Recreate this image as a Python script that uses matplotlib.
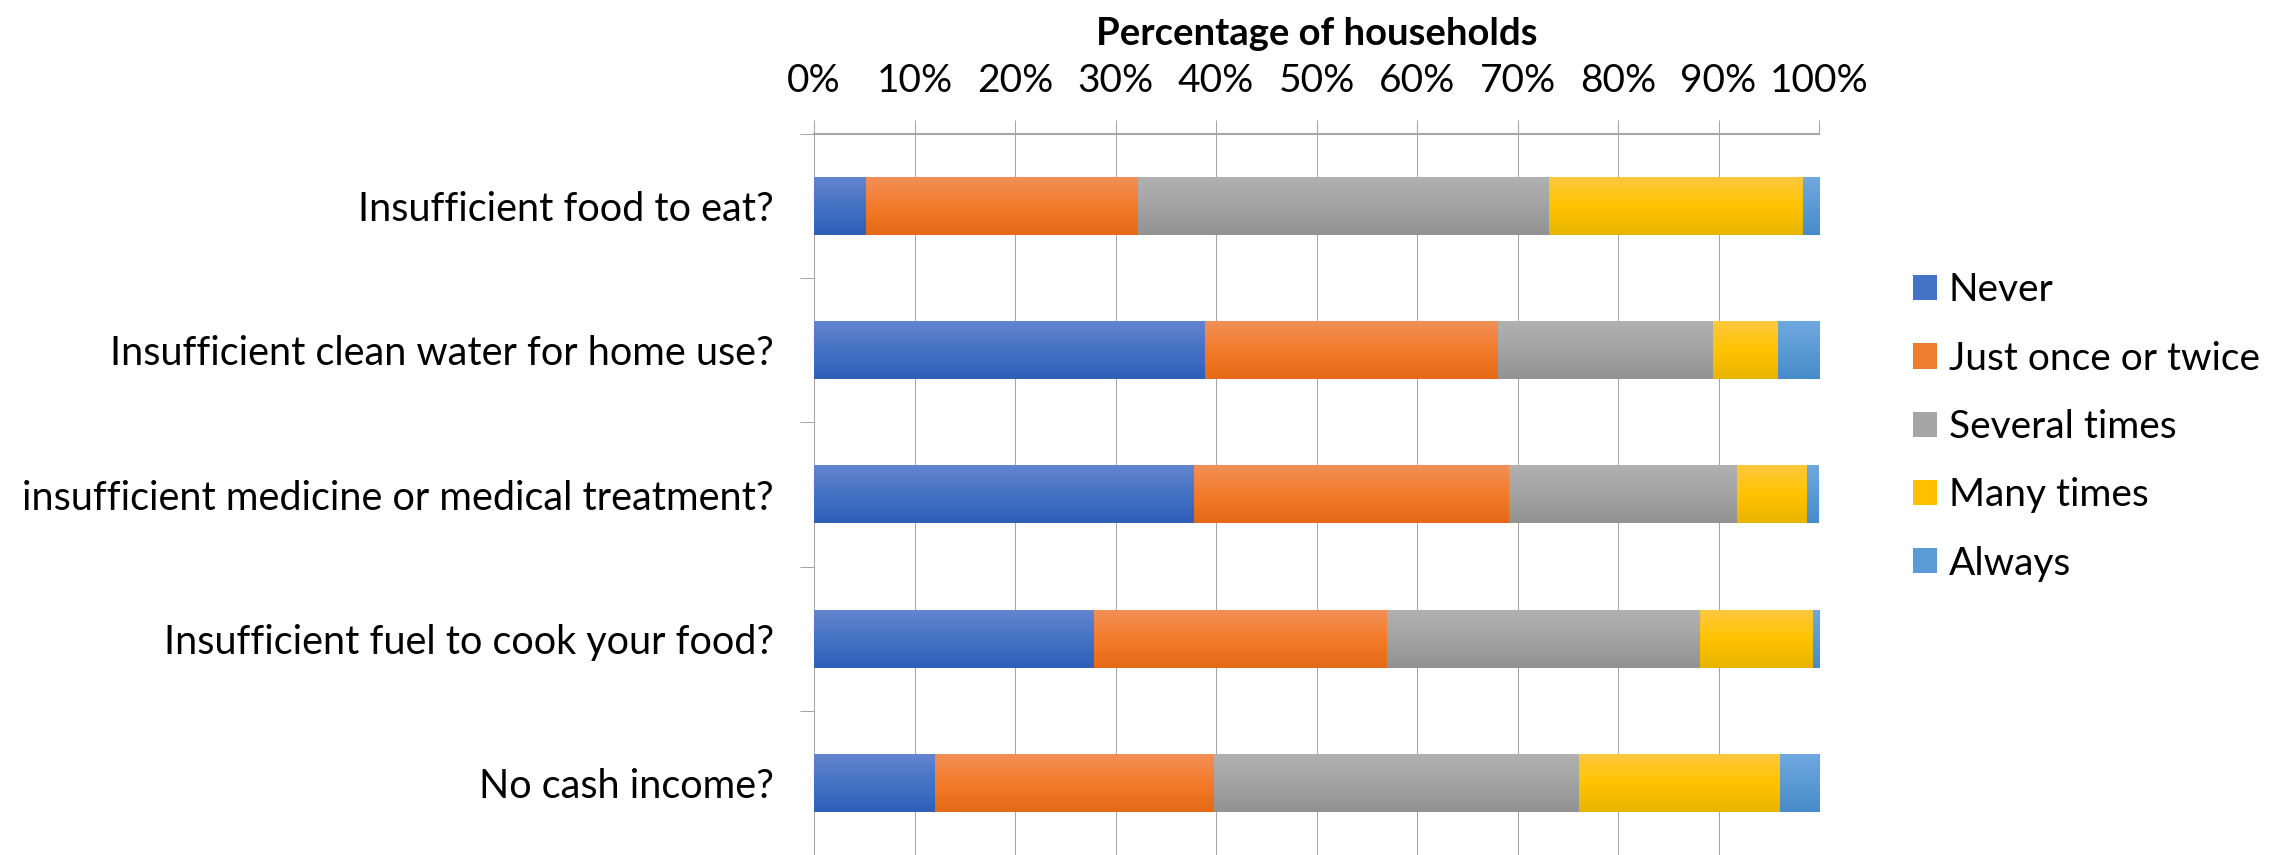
import matplotlib
matplotlib.use("Agg")
import matplotlib.pyplot as plt
import numpy as np
from matplotlib.colors import LinearSegmentedColormap
from matplotlib.patches import Patch
from matplotlib.ticker import FixedLocator, PercentFormatter

plt.rcParams['font.family'] = ['Lato', 'DejaVu Sans']

categories = [
    "Insufficient food to eat?",
    "Insufficient clean water for home use?",
    "insufficient medicine or medical treatment?",
    "Insufficient fuel to cook your food?",
    "No cash income?",
]
series_names = ["Never", "Just once or twice", "Several times", "Many times", "Always"]
never = [5.2, 38.9, 37.8, 27.9, 12.0]
once_twice = [27.0, 29.2, 31.4, 29.1, 27.8]
several = [40.9, 21.4, 22.6, 31.2, 36.3]
many = [25.3, 6.4, 7.0, 11.2, 20.0]
always = [1.6, 4.1, 1.1, 0.6, 3.9]
x_ticks = [0, 10, 20, 30, 40, 50, 60, 70, 80, 90, 100]

series_values = [never, once_twice, several, many, always]
base_colors = ["#4472c4", "#ed7d31", "#a5a5a5", "#ffc000", "#5b9bd5"]
grad_stops = [
    ("#6385cf", "#4472c4", "#2e5fb9"),
    ("#f19058", "#f47b2a", "#e56916"),
    ("#b1b1b1", "#a3a3a3", "#929292"),
    ("#ffc840", "#ffc400", "#e6b400"),
    ("#70a8de", "#5b9bd5", "#468bc9"),
]

fig = plt.figure(figsize=(22.87, 8.55), dpi=100)
ax = fig.add_axes([814/2287, 0.0, (1819-814)/2287, 1 - 134/855])

y = np.arange(len(categories))
left = np.zeros(len(categories))
grad = np.linspace(0, 1, 256).reshape(-1, 1)
for vals, name, col, stops in zip(series_values, series_names, base_colors, grad_stops):
    bars = ax.barh(y, vals, left=left, height=0.4, color=col, label=name, zorder=2)
    cmap = LinearSegmentedColormap.from_list(name, list(stops))
    for p in bars.patches:
        x0, y0, w, h = p.get_x(), p.get_y(), p.get_width(), p.get_height()
        if w <= 0:
            continue
        ax.imshow(grad, cmap=cmap, aspect='auto', interpolation='bilinear',
                  extent=[x0, x0 + w, y0 + h, y0], zorder=3, origin='upper')
    left = left + np.array(vals)

ax.set_xlim(0, 100)
ax.set_ylim(len(categories) - 0.5, -0.5)
ax.set_aspect('auto')

ax.xaxis.tick_top()
ax.xaxis.set_label_position('top')
ax.xaxis.set_major_locator(FixedLocator(x_ticks))
ax.xaxis.set_major_formatter(PercentFormatter(decimals=0))
ax.tick_params(axis='x', which='major', length=10, width=0.75, color='#a6a6a6',
               labelsize=28, pad=15, labelcolor='black')
ax.grid(axis='x', color='#a6a6a6', linewidth=0.75, zorder=0)
ax.set_axisbelow(True)

ax.set_yticks(y)
ax.set_yticklabels(categories)
ax.yaxis.set_minor_locator(FixedLocator(np.arange(-0.5, len(categories), 1.0)))
ax.tick_params(axis='y', which='major', length=0, labelsize=28.5, pad=29)
ax.tick_params(axis='y', which='minor', length=10, width=0.75, color='#a6a6a6')

for s in ['right', 'bottom']:
    ax.spines[s].set_visible(False)
ax.spines['top'].set_color('#a6a6a6')
ax.spines['top'].set_linewidth(1.5)
ax.spines['left'].set_color('#a6a6a6')
ax.spines['left'].set_linewidth(0.75)

ax.set_xlabel("Percentage of households", fontsize=27.5, fontweight='bold', labelpad=13)

handles = [Patch(facecolor=c, label=n) for c, n in zip(base_colors, series_names)]
fig.legend(handles=handles, loc='center left', bbox_to_anchor=(1913/2287, 1 - 427/855),
           frameon=False, fontsize=28, handlelength=0.62, handleheight=0.62,
           handletextpad=0.3, labelspacing=0.83, borderaxespad=0, borderpad=0)

fig.savefig("out.png", dpi=100)
